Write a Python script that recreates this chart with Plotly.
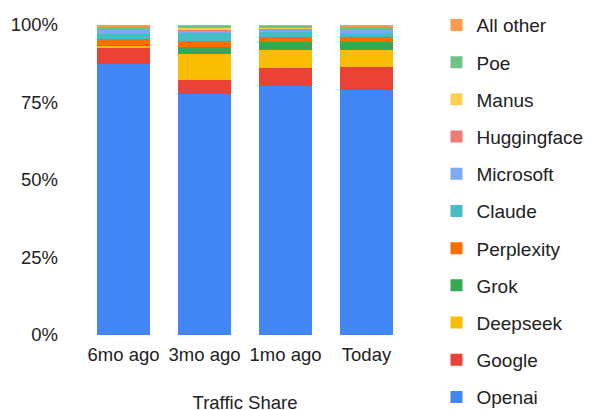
import plotly.graph_objects as go

categories = ["6mo ago", "3mo ago", "1mo ago", "Today"]
series_names = ["Openai", "Google", "Deepseek", "Grok", "Perplexity", "Claude",
                "Microsoft", "Huggingface", "Manus", "Poe", "All other"]
openai = [87.5, 77.6, 80.3, 79.1]
google = [5.3, 4.8, 5.9, 7.3]
deepseek = [0.5, 8.1, 5.7, 5.6]
grok = [0.3, 2.4, 2.7, 2.5]
perplexity = [1.9, 1.9, 1.4, 1.6]
claude = [1.6, 2.6, 1.6, 1.3]
microsoft = [1.3, 0.9, 1.0, 1.2]
huggingface = [0.4, 0.4, 0.4, 0.3]
manus = [0.2, 0.4, 0.2, 0.2]
poe = [0.3, 0.6, 0.5, 0.2]
all_other = [0.7, 0.3, 0.3, 0.8]
values = [openai, google, deepseek, grok, perplexity, claude, microsoft,
          huggingface, manus, poe, all_other]
colors = ["#4285F4", "#EA4335", "#FBBC04", "#34A853", "#FF6D01", "#46BDC6",
          "#7BAAF7", "#F07B72", "#FCD04F", "#71C287", "#FF994D"]
y_ticks = [0, 25, 50, 75, 100]
y_tick_labels = ["0%", "25%", "50%", "75%", "100%"]

# the top five legend entries go in the upper legend, the rest in the lower one
upper_legend = {"All other", "Poe", "Manus", "Huggingface", "Microsoft"}

fig = go.Figure()
for i, (name, vals, col) in enumerate(zip(series_names, values, colors)):
    fig.add_trace(go.Bar(x=categories, y=vals, name=name, legendgroup=name,
                         legendrank=1000 - i,
                         legend="legend" if name in upper_legend else "legend2",
                         marker=dict(color=col, line=dict(width=0))))

fam = "Liberation Sans, Arial, sans-serif"
font = dict(family=fam, size=18.5, color="#222222")
lfont = dict(family=fam, size=19, color="#222222")
leg_common = dict(x=1.091, xanchor="left", yanchor="top",
                  traceorder="grouped", tracegroupgap=9.5,
                  font=lfont, itemwidth=30, bgcolor="rgba(0,0,0,0)")
fig.update_layout(
    barmode="stack",
    barnorm="percent",
    bargap=0.35,
    width=601, height=410,
    margin=dict(l=75, r=202, t=17, b=83, autoexpand=False),
    paper_bgcolor="white", plot_bgcolor="white",
    font=font,
    showlegend=True,
    legend=dict(y=1.061, **leg_common),
    legend2=dict(y=0.461, **leg_common),
    xaxis=dict(showgrid=False, showline=False, ticks="", tickfont=font,
               ticklabelstandoff=6, automargin=False,
               title=dict(text="Traffic Share", font=font, standoff=32)),
    yaxis=dict(range=[0, 100], tickvals=y_ticks, ticktext=y_tick_labels,
               showgrid=False, zeroline=False, showline=False, ticks="",
               tickfont=font, ticklabelstandoff=24, automargin=False),
)
fig.write_html("out.html")
